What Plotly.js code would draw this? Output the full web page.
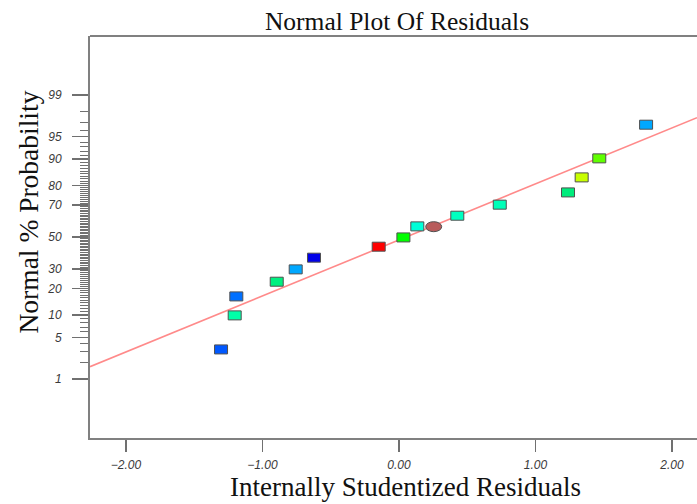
<!DOCTYPE html>
<html>
<head>
<meta charset="utf-8">
<script src="https://cdn.plot.ly/plotly-3.0.1.min.js"></script>
<style>html,body{margin:0;padding:0;background:#fff;overflow:hidden;}</style>
</head>
<body>
<div id="chart" style="width:697px;height:504px;"></div>
<script>
// Internally studentized residuals (x) and their normal scores (y, in z units)
var residuals = [-1.304, -1.204, -1.192, -0.896, -0.757, -0.623, -0.149, 0.032, 0.134, 0.254, 0.427, 0.738, 1.238, 1.338, 1.467, 1.810];
var normalScores = [-1.843, -1.285, -0.974, -0.733, -0.531, -0.339, -0.159, -0.007, 0.174, 0.169, 0.349, 0.530, 0.731, 0.977, 1.289, 1.841];
var pointColors = ['#0058ff', '#00ffa8', '#0070ff', '#00f080', '#00a8ff', '#0000e8', '#ff0000', '#00ff00', '#00ffd8', '#b85c5c', '#00ffc0', '#00ffb8', '#00ec7c', '#c8ff00', '#60ff00', '#00a8ff'];
var pointShapes = ['rect','rect','rect','rect','rect','rect','rect','rect','rect','ellipse','rect','rect','rect','rect','rect','rect'];
// fitted normal line (end points)
var fitX = [-2.264, 2.183];
var fitY = [-2.126, 1.956];
// y tick labels (percent probability)
var probLabels = ['1', '5', '10', '20', '30', '50', '70', '80', '90', '95', '99'];
var xTicks = [-2, -1, 0, 1, 2];
var chartTitle = 'Normal Plot Of Residuals';
var xTitle = 'Internally Studentized Residuals';
var yTitle = 'Normal % Probability';

function probit(p) {
  var a = [-3.969683028665376e+01, 2.209460984245205e+02, -2.759285104469687e+02, 1.383577518672690e+02, -3.066479806614716e+01, 2.506628277459239e+00];
  var b = [-5.447609879822406e+01, 1.615858368580409e+02, -1.556989798598866e+02, 6.680131188771972e+01, -1.328068155288572e+01];
  var c = [-7.784894002430293e-03, -3.223964580411365e-01, -2.400758277161838e+00, -2.549732539343734e+00, 4.374664141464968e+00, 2.938163982698783e+00];
  var d = [7.784695709041462e-03, 3.224671290700398e-01, 2.445134137142996e+00, 3.754408661907416e+00];
  var pl = 0.02425, q, r;
  if (p < pl) { q = Math.sqrt(-2 * Math.log(p)); return (((((c[0]*q+c[1])*q+c[2])*q+c[3])*q+c[4])*q+c[5]) / ((((d[0]*q+d[1])*q+d[2])*q+d[3])*q+1); }
  if (p > 1 - pl) { q = Math.sqrt(-2 * Math.log(1 - p)); return -(((((c[0]*q+c[1])*q+c[2])*q+c[3])*q+c[4])*q+c[5]) / ((((d[0]*q+d[1])*q+d[2])*q+d[3])*q+1); }
  q = p - 0.5; r = q * q;
  return (((((a[0]*r+a[1])*r+a[2])*r+a[3])*r+a[4])*r+a[5])*q / (((((b[0]*r+b[1])*r+b[2])*r+b[3])*r+b[4])*r+1);
}

var majorVals = probLabels.map(function (s) { return probit(parseFloat(s) / 100); });
var minorVals = [];
for (var pc = 2; pc <= 98; pc++) {
  if (probLabels.indexOf(String(pc)) === -1) minorVals.push(probit(pc / 100));
}

var shapes = [];
residuals.forEach(function (xv, i) {
  var ell = pointShapes[i] === 'ellipse';
  var w = ell ? 16 : 13, h = ell ? 10 : 9;
  shapes.push({
    type: ell ? 'circle' : 'rect', xref: 'x', yref: 'y',
    xsizemode: 'pixel', ysizemode: 'pixel',
    xanchor: xv, yanchor: normalScores[i],
    x0: -w / 2, x1: w / 2, y0: -h / 2, y1: h / 2,
    fillcolor: pointColors[i], line: { color: '#505050', width: 1 }, layer: 'above'
  });
});
shapes.push({ type: 'line', xref: 'paper', yref: 'paper', x0: 0, x1: 1, y0: 1, y1: 1, line: { color: '#808080', width: 2 } });

var traces = [
  { x: fitX, y: fitY, mode: 'lines', line: { color: '#ff8a8a', width: 1.6 }, hoverinfo: 'skip', showlegend: false },
  { x: residuals, y: normalScores, mode: 'markers', marker: { size: 10, color: pointColors, opacity: 0 }, showlegend: false }
];

var tickFont = { family: 'Liberation Sans, Arial, sans-serif', size: 12, color: '#3a3a3a', style: 'italic' };
var serif = 'Liberation Serif, Times New Roman, serif';

var layout = {
  width: 697, height: 504,
  margin: { l: 90, r: 0, t: 36, b: 66 },
  paper_bgcolor: '#fff', plot_bgcolor: '#fff',
  showlegend: false,
  title: { text: chartTitle, font: { family: serif, size: 25.5, color: '#111' }, x: 0.5696, xref: 'container', xanchor: 'center', y: 0.958, yref: 'container', yanchor: 'middle' },
  xaxis: {
    range: [-2.264, 2.183], tickvals: xTicks, tickformat: '.2f',
    ticks: 'outside', ticklen: 12, tickwidth: 1.5, tickcolor: '#707070',
    showline: true, linecolor: '#808080', linewidth: 2,
    showgrid: false, zeroline: false, tickfont: tickFont, ticklabelstandoff: 3
  },
  yaxis: {
    range: [-3.295, 3.295], tickvals: majorVals, ticktext: probLabels,
    ticks: 'outside', ticklen: 16, tickwidth: 1.5, tickcolor: '#707070',
    minor: { tickvals: minorVals, ticks: 'outside', ticklen: 8, tickwidth: 1, tickcolor: '#707070', showgrid: false },
    showline: true, linecolor: '#808080', linewidth: 2,
    showgrid: false, zeroline: false, tickfont: tickFont, ticklabelstandoff: 8
  },
  annotations: [
    { text: xTitle, xref: 'paper', yref: 'paper', x: 0.519, y: -0.1219, xanchor: 'center', yanchor: 'middle', showarrow: false, font: { family: serif, size: 27, color: '#111' } },
    { text: yTitle, xref: 'paper', yref: 'paper', x: -0.1021, y: 0.561, xanchor: 'center', yanchor: 'middle', textangle: -90, showarrow: false, font: { family: serif, size: 27.5, color: '#111' } }
  ],
  shapes: shapes
};

Plotly.newPlot('chart', traces, layout, { displayModeBar: false, staticPlot: true });
</script>
</body>
</html>
